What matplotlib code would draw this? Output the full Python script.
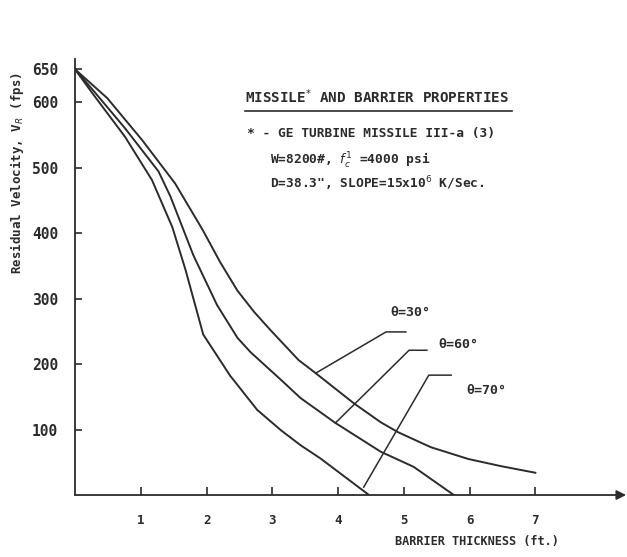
import matplotlib.pyplot as plt

# barrier thickness (ft) vs residual velocity (fps)
x_30 = [0, 0.49, 1.02, 1.52, 1.94, 2.21, 2.47, 2.72, 2.97, 3.40, 3.66, 4.24,
        4.65, 4.91, 5.41, 5.98, 6.48, 7.0]
v_30 = [650, 606, 542, 476, 405, 355, 312, 280, 252, 206, 186, 140,
        111, 96, 73, 55, 44, 34]

x_60 = [0, 0.30, 0.76, 1.27, 1.45, 1.80, 1.98, 2.16, 2.47, 2.67, 3.13, 3.43,
        3.96, 4.65, 5.15, 5.76]
v_60 = [650, 615, 560, 494, 456, 366, 328, 290, 240, 218, 176, 148,
        110, 66, 43, 0]

x_70 = [0, 0.26, 0.76, 1.17, 1.48, 1.68, 1.95, 2.36, 2.77, 3.13, 3.43, 3.73, 4.47]
v_70 = [650, 614, 547, 481, 409, 344, 245, 182, 130, 99, 76, 56, 0]

x_ticks = [1, 2, 3, 4, 5, 6, 7]
y_ticks = [100, 200, 300, 400, 500, 600, 650]

ink = '#2b2b2b'
mono = 'DejaVu Sans Mono'

fig = plt.figure(figsize=(6.27, 5.57), dpi=100)
ax = fig.add_axes([0.1196, 0.1113, 0.879, 0.782])

for xs, vs in [(x_30, v_30), (x_60, v_60), (x_70, v_70)]:
    ax.plot(xs, vs, color=ink, lw=1.4, solid_joinstyle='round')

ax.set_xlim(0, 8.38)
ax.set_ylim(0, 665)
for s in ['top', 'right', 'bottom']:
    ax.spines[s].set_visible(False)
ax.spines['left'].set_color(ink)
ax.spines['left'].set_linewidth(1.3)
ax.annotate('', xy=(8.38, 0), xytext=(0, 0),
            arrowprops=dict(arrowstyle='-|>', color=ink, lw=1.3,
                            mutation_scale=14, shrinkA=0, shrinkB=0),
            annotation_clip=False)

ax.set_xticks(x_ticks)
ax.set_xticklabels([str(t) for t in x_ticks], fontfamily=mono,
                   fontweight='bold', fontsize=9)
ax.set_yticks(y_ticks)
ax.set_yticklabels([str(t) for t in y_ticks], fontfamily=mono,
                   fontweight='bold', fontsize=10.5)
ax.tick_params(axis='x', direction='in', length=6, width=1.2, colors=ink, pad=14)
ax.tick_params(axis='y', direction='in', length=5, width=1.2, colors=ink, pad=12)

ax.set_ylabel('Residual Velocity, V$_R$ (fps)', fontfamily=mono,
              fontweight='bold', fontsize=9, color=ink)
ax.yaxis.set_label_coords(-0.088, 0.74)
fig.text(0.63, 0.022, 'BARRIER THICKNESS (ft.)', fontfamily=mono,
         fontweight='bold', fontsize=8.6, color=ink)

# properties block
ax.text(2.59, 598, 'MISSILE$^{*}$ AND BARRIER PROPERTIES', fontfamily=mono,
        fontweight='bold', fontsize=10.3, color=ink, va='baseline')
ax.plot([2.59, 6.65], [587, 587], color=ink, lw=1.2)
ax.text(2.62, 546, '* - GE TURBINE MISSILE III-a (3)', fontfamily=mono,
        fontweight='bold', fontsize=9.3, color=ink, va='baseline')
ax.text(2.97, 504, 'W=8200#, $f_c^1$ =4000 psi', fontfamily=mono,
        fontweight='bold', fontsize=9.3, color=ink, va='baseline')
ax.text(2.97, 469, 'D=38.3", SLOPE=15x10$^6$ K/Sec.', fontfamily=mono,
        fontweight='bold', fontsize=9.3, color=ink, va='baseline')

# leader lines and angle labels
leaders = [
    ([3.66, 4.73, 5.03], [186, 249, 249], 'θ=30°', 4.80, 279),
    ([3.96, 5.08, 5.35], [110, 221, 221], 'θ=60°', 5.53, 230),
    ([4.39, 5.38, 5.72], [12, 183, 183], 'θ=70°', 5.95, 160),
]
for lx, ly, lab, tx, ty in leaders:
    ax.plot(lx, ly, color=ink, lw=1.1)
    ax.text(tx, ty, lab, fontfamily=mono, fontweight='bold', fontsize=9.5,
            color=ink, va='center')

fig.savefig('out.png', dpi=100)
